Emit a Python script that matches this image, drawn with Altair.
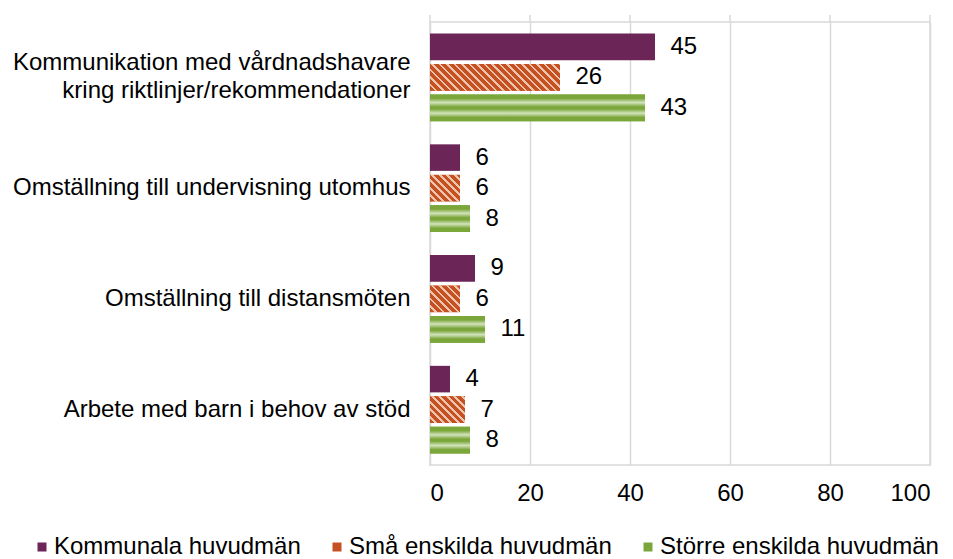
import math
import altair as alt
import pandas as pd

categories = [
    "Kommunikation med vårdnadshavare|kring riktlinjer/rekommendationer",
    "Omställning till undervisning utomhus",
    "Omställning till distansmöten",
    "Arbete med barn i behov av stöd",
]
series = ["Kommunala huvudmän", "Små enskilda huvudmän", "Större enskilda huvudmän"]
kommunala = [45, 6, 9, 4]
sma = [26, 6, 6, 7]
storre = [43, 8, 11, 8]
x_ticks = [0, 20, 40, 60, 80, 100]

colors = ["#6b2557", "#c55123", "#7aa63a"]
FONT = "Liberation Sans"
FS = 24

rows = []
for i, c in enumerate(categories):
    for s, vals in zip(series, [kommunala, sma, storre]):
        rows.append({"cat": c, "series": s, "value": vals[i]})
df = pd.DataFrame(rows)

W, H = 500, 443
PX_PER_UNIT = W / 100.0
pi, po = 0.13, 0.38
step_outer = H / len(categories)
step_inner = step_outer / (3 - pi + 2 * po)
BAR_H = step_inner * (1 - pi)

y_enc = alt.Y("cat:N", sort=categories, title=None,
              scale=alt.Scale(paddingInner=0, paddingOuter=0),
              axis=alt.Axis(labelExpr="split(datum.label, '|')", domain=False, ticks=False,
                            labelPadding=20, labelFontSize=FS, labelFont=FONT,
                            labelColor="#000000", labelLineHeight=28, labelLimit=500,
                            labelOffset={"condition": {"test": "indexof(datum.value, '|') >= 0",
                                                       "value": -14},
                                         "value": 0}))
yoff_enc = alt.YOffset("series:N", sort=series,
                       scale=alt.Scale(paddingInner=pi, paddingOuter=po))
x_enc = alt.X("value:Q", title=None, scale=alt.Scale(domain=[0, 100], nice=False),
              axis=alt.Axis(values=x_ticks, domain=False, ticks=False, grid=True,
                            gridColor="#d9d9d9", gridWidth=1.5, labelPadding=16,
                            labelFontSize=FS, labelFont=FONT, labelColor="#000000"))

base = alt.Chart(df)

bars = base.mark_bar().encode(
    x=x_enc, y=y_enc, yOffset=yoff_enc,
    color=alt.Color("series:N", sort=series,
                    scale=alt.Scale(domain=series, range=colors),
                    legend=alt.Legend(orient="none", legendX=-400, legendY=513,
                                      direction="horizontal", title=None,
                                      symbolType="square", symbolSize=81,
                                      symbolStrokeWidth=0, labelFontSize=FS,
                                      labelFont=FONT, labelColor="#000000",
                                      labelOffset=0, columnPadding=24, labelLimit=400)),
)


def hatch_gradient(v):
    w = v * PX_PER_UNIT
    h = BAR_H
    a = (w + h) / (w * w + h * h)
    total = w + h
    P = 7.5
    dark = 4.8
    stops = []
    k = 0
    while k * P < total:
        o0 = k * P / total
        o1 = min((k * P + dark) / total, 1.0)
        o2 = min((k + 1) * P / total, 1.0)
        stops.append({"offset": o0, "color": "#c55123"})
        stops.append({"offset": o1, "color": "#c55123"})
        if o1 < 1.0:
            stops.append({"offset": o1, "color": "#efc4ad"})
            stops.append({"offset": o2, "color": "#efc4ad"})
        k += 1
    return {"gradient": "linear", "x1": 0, "y1": 1, "x2": a * w, "y2": 1 - a * h,
            "stops": stops}


wave_gradient = {
    "gradient": "linear", "x1": 0, "y1": 0, "x2": 0, "y2": 1,
    "stops": [
        {"offset": 0.0, "color": "#7aa63a"},
        {"offset": 0.14, "color": "#7aa63a"},
        {"offset": 0.30, "color": "#d3e3bc"},
        {"offset": 0.46, "color": "#7aa63a"},
        {"offset": 0.54, "color": "#7aa63a"},
        {"offset": 0.70, "color": "#d3e3bc"},
        {"offset": 0.86, "color": "#7aa63a"},
        {"offset": 1.0, "color": "#7aa63a"},
    ],
}

overlays = []
for i, c in enumerate(categories):
    overlays.append(
        base.transform_filter((alt.datum.cat == c) & (alt.datum.series == series[1]))
        .mark_bar(fill=hatch_gradient(sma[i]))
        .encode(x=alt.X("value:Q"), y=alt.Y("cat:N", sort=categories), yOffset=yoff_enc)
    )
    overlays.append(
        base.transform_filter((alt.datum.cat == c) & (alt.datum.series == series[2]))
        .mark_bar(fill=wave_gradient)
        .encode(x=alt.X("value:Q"), y=alt.Y("cat:N", sort=categories), yOffset=yoff_enc)
    )

labels = base.mark_text(align="left", baseline="middle", dx=15.5, fontSize=FS,
                        font=FONT, color="#000000").encode(
    x=alt.X("value:Q"), y=alt.Y("cat:N", sort=categories), yOffset=yoff_enc,
    text=alt.Text("value:Q"),
)

grid_ext = alt.Chart(pd.DataFrame({"t": x_ticks})).mark_rule(
    color="#d9d9d9", strokeWidth=1.5).encode(
    x=alt.X("t:Q"), y=alt.value(-7), y2=alt.value(0))

chart = alt.layer(grid_ext, bars, *overlays, labels).properties(
    width=W, height=H,
    autosize=alt.AutoSizeParams(type="none"),
    padding={"left": 422, "top": 14, "right": 15, "bottom": 94},
).configure_view(stroke="#d9d9d9", strokeWidth=1.5)

chart.save("out.html", embed_options={"renderer": "svg", "actions": False})
